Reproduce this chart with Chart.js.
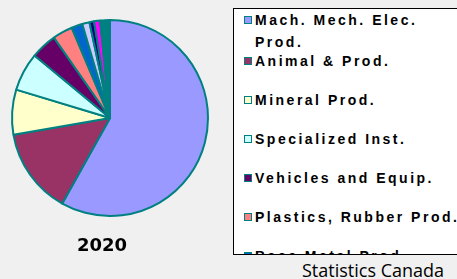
<!DOCTYPE html>
<html>
<head>
<meta charset="utf-8">
<script src="https://cdn.jsdelivr.net/npm/chart.js@4.4.1/dist/chart.umd.min.js"></script>
<style>
    html, body { margin: 0; padding: 0; }
    body { width: 457px; height: 279px; background: #f0f0f0; position: relative; overflow: hidden; }
    #pieBox { position: absolute; left: 0; top: 0; width: 220px; height: 240px; }
    #year { position: absolute; left: 52px; top: 234px; width: 100px; text-align: center;
        font: bold 18px "DejaVu Sans", sans-serif; color: #000; }
    #legendBox { position: absolute; left: 233px; top: 8px; width: 260px; height: 245px;
        background: #fff; border: 1px solid #000; overflow: hidden; }
    #legendBox ul { list-style: none; margin: 0; padding: 0; }
    #legendBox li { position: relative; height: 39px; padding-left: 21px; width: 212px;
        font: bold 14px "Liberation Sans", Arial, sans-serif; letter-spacing: 2.5px; line-height: 22px; color: #000; }
    #legendBox li:first-child { height: 41px; }
    #legendBox li span { position: absolute; left: 10px; top: 7px; width: 6px; height: 6px; border: 1px solid #008080; }
    #source { position: absolute; left: 302px; top: 258px; font: 18px "Open Sans", sans-serif; color: #000; }
</style>
</head>
<body>
<div id="pieBox"><canvas id="myChart"></canvas></div>
<div id="year"></div>
<div id="legendBox"><ul id="legendList"></ul></div>
<div id="source">Statistics Canada</div>
<script>
var categories = [
    'Mach. Mech. Elec. Prod.',
    'Animal & Prod.',
    'Mineral Prod.',
    'Specialized Inst.',
    'Vehicles and Equip.',
    'Plastics, Rubber Prod.',
    'Base Metal Prod.',
    'Chemical Prod.',
    'Wood Prod.',
    'Misc. Manuf. Art.',
    'Other'
];
var values2020 = [57.9, 14.1, 7.4, 6.3, 4.3, 3.3, 1.8, 1.2, 0.75, 1.0, 1.6];
var yearLabel = '2020';

var sliceColors = ['#9999ff', '#993366', '#ffffcc', '#ccffff', '#660066', '#ff8080',
    '#0066cc', '#ccccff', '#000080', '#ff00ff', '#008080'];

genGraph();

function genGraph()
{
    var ctx = document.getElementById('myChart').getContext('2d');
    var myChart = new Chart(ctx, {
        type: 'pie',
        data: {
            labels: categories,
            datasets: [{
                data: values2020,
                backgroundColor: sliceColors,
                borderColor: '#008080',
                borderWidth: 2
            }]
        },
        options: {
            responsive: true,
            maintainAspectRatio: false,
            animation: false,
            layout: {padding: {left: 11, right: 11, top: 19, bottom: 23}},
            plugins: {
                legend: {display: false},
                tooltip: {enabled: false}
            }
        }
    });

    document.getElementById('year').textContent = yearLabel;
    buildLegend(myChart);
}

function buildLegend(chart)
{
    var list = document.getElementById('legendList');
    var items = Chart.overrides.pie.plugins.legend.labels.generateLabels(chart);

    items.forEach(function (item) {
        var li = document.createElement('li');
        var box = document.createElement('span');
        box.style.background = item.fillStyle;
        li.appendChild(box);
        li.appendChild(document.createTextNode(item.text));
        list.appendChild(li);
    });
}
</script>
</body>
</html>
